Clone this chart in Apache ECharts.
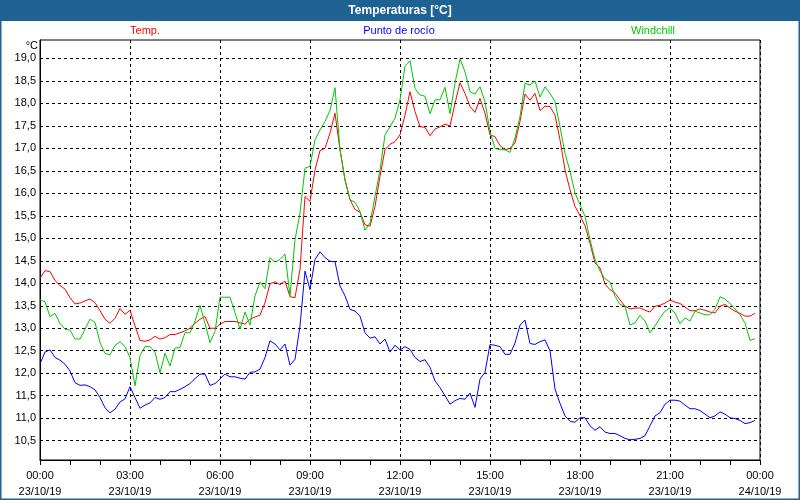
<!DOCTYPE html>
<html><head><meta charset="utf-8">
<script src="https://cdn.jsdelivr.net/npm/echarts@6/dist/echarts.min.js"></script>
<style>html,body{margin:0;padding:0;background:#fff}#c{width:800px;height:500px}</style>
</head><body><div id="c"></div>
<script>
// sample times in hours (every 10 minutes, 23/10/19 00:00 .. 23:50)
const times = Array.from({length: 144}, (_, i) => i / 6);

const temp = [
14.11,14.28,14.26,14.06,13.95,13.87,13.68,13.54,13.56,13.61,13.65,13.57,13.39,13.20,13.11,13.22,13.44,13.31,
13.40,13.05,12.73,12.71,12.74,12.82,12.76,12.79,12.86,12.86,12.90,12.94,13.00,13.11,13.20,13.26,13.00,13.00,
13.09,13.15,13.15,13.15,13.12,13.09,13.20,13.25,13.29,13.57,13.99,14.03,13.97,14.05,13.70,13.68,14.31,15.93,
15.82,16.52,16.95,17.00,17.34,17.78,16.97,16.30,15.86,15.64,15.58,15.30,15.27,15.71,16.38,16.97,17.09,17.15,
17.30,17.74,18.26,17.82,17.48,17.47,17.28,17.43,17.48,17.54,17.50,18.00,18.46,18.22,17.93,17.80,18.11,17.78,
17.30,17.26,17.06,16.97,17.00,17.12,17.60,18.21,18.07,18.22,17.84,17.94,17.93,17.74,17.19,16.52,16.08,15.71,
15.50,15.28,14.89,14.45,14.34,13.98,13.86,13.78,13.63,13.49,13.43,13.45,13.45,13.40,13.36,13.49,13.51,13.56,
13.63,13.58,13.55,13.47,13.39,13.39,13.43,13.40,13.36,13.34,13.49,13.53,13.45,13.38,13.33,13.27,13.27,13.33
];

const dew = [
12.21,12.47,12.52,12.35,12.29,12.20,12.05,11.79,11.73,11.74,11.70,11.63,11.46,11.23,11.12,11.20,11.36,11.43,
11.70,11.46,11.22,11.29,11.34,11.46,11.42,11.46,11.59,11.59,11.64,11.70,11.77,11.88,11.98,11.98,11.73,11.77,
11.87,11.98,11.92,11.92,11.89,11.87,12.02,12.03,12.09,12.35,12.72,12.65,12.52,12.65,12.18,12.31,13.05,14.27,
13.86,14.53,14.70,14.57,14.49,14.48,13.94,13.72,13.42,13.38,13.27,12.90,12.78,12.81,12.65,12.76,12.47,12.62,
12.52,12.59,12.53,12.35,12.26,12.30,12.13,11.83,11.68,11.50,11.31,11.39,11.44,11.42,11.56,11.24,11.87,12.02,
12.64,12.62,12.59,12.42,12.42,12.67,13.07,13.18,12.66,12.64,12.70,12.74,12.50,11.65,11.33,11.05,10.93,10.91,
11.01,11.01,10.83,10.73,10.81,10.69,10.66,10.66,10.61,10.55,10.52,10.53,10.55,10.61,10.83,11.05,11.12,11.31,
11.40,11.40,11.38,11.29,11.21,11.21,11.17,11.09,11.01,11.05,11.14,11.09,11.01,10.99,10.95,10.88,10.90,10.95
];

const windchill = [
13.63,13.59,13.26,13.33,13.11,12.98,12.96,12.76,12.76,12.98,13.20,13.13,12.68,12.44,12.41,12.62,12.70,12.59,
12.35,11.72,12.39,12.59,12.59,12.47,12.01,12.44,12.16,12.56,12.57,12.90,12.90,13.16,13.51,13.11,12.68,12.93,
13.69,13.69,13.69,13.35,12.98,13.36,13.07,13.72,14.03,13.88,14.57,14.47,14.53,14.65,13.72,14.97,15.56,16.56,
16.60,17.19,17.41,17.60,17.84,18.35,16.97,16.30,15.86,15.80,15.60,15.18,15.34,15.93,16.52,17.30,17.48,17.67,
18.08,18.82,18.95,18.33,18.19,18.16,17.77,18.08,18.08,18.36,17.77,18.45,18.99,18.70,18.26,18.21,18.37,18.04,
17.37,17.00,16.97,16.97,16.91,17.23,17.71,18.45,18.41,18.50,18.14,18.37,18.22,18.04,17.48,16.89,16.49,16.01,
15.75,15.49,14.97,14.53,14.27,14.10,14.03,13.71,13.53,13.49,13.07,13.12,13.29,13.16,12.90,13.05,13.23,13.38,
13.45,13.34,13.10,13.23,13.16,13.38,13.34,13.30,13.30,13.42,13.70,13.65,13.55,13.43,13.30,13.12,12.73,12.77
];

const yTicks = [10.5,11.0,11.5,12.0,12.5,13.0,13.5,14.0,14.5,15.0,15.5,16.0,16.5,17.0,17.5,18.0,18.5,19.0];
const xTicks = [0,3,6,9,12,15,18,21,24];
const xTimeLabels = ['00:00','03:00','06:00','09:00','12:00','15:00','18:00','21:00','00:00'];
const xDateLabels = ['23/10/19','23/10/19','23/10/19','23/10/19','23/10/19','23/10/19','23/10/19','23/10/19','24/10/19'];

const names = ['Temp.', 'Punto de rocío', 'Windchill'];
const colors = ['#ff0000', '#0000ff', '#00c800'];
const FONT = 'Liberation Sans';
const FRAME = '#1e6294';

const pair = arr => arr.map((v, i) => [times[i], v]);

const chart = echarts.init(document.getElementById('c'), null, {renderer: 'canvas'});
chart.setOption({
  animation: false,
  backgroundColor: '#ffffff',
  textStyle: {fontFamily: FONT},
  graphic: [
    {type: 'rect', shape: {x: 0, y: 0, width: 800, height: 21}, style: {fill: FRAME}, z: 0},
    {type: 'rect', shape: {x: 0.5, y: 0.5, width: 799, height: 499}, style: {fill: null, stroke: FRAME, lineWidth: 2}, z: 0},
    {type: 'text', x: 400, y: 11, style: {text: 'Temperaturas [°C]', fill: '#ffffff', font: 'bold 12px "Liberation Sans"', textAlign: 'center', textVerticalAlign: 'middle'}},
    {type: 'text', x: 145, y: 31, style: {text: names[0], fill: colors[0], font: '11px "Liberation Sans"', textAlign: 'center', textVerticalAlign: 'middle'}},
    {type: 'text', x: 399, y: 31, style: {text: names[1], fill: colors[1], font: '11px "Liberation Sans"', textAlign: 'center', textVerticalAlign: 'middle'}},
    {type: 'text', x: 653, y: 31, style: {text: names[2], fill: colors[2], font: '11px "Liberation Sans"', textAlign: 'center', textVerticalAlign: 'middle'}},
    {type: 'text', x: 38, y: 46, style: {text: '°C', fill: '#000', font: '11px "Liberation Sans"', textAlign: 'right', textVerticalAlign: 'middle'}}
  ],
  grid: {left: 40, right: 40, top: 40, bottom: 40, show: true, borderColor: '#000', borderWidth: 1, backgroundColor: '#fff'},
  xAxis: {
    type: 'value', min: 0, max: 24, interval: 3,
    axisLine: {lineStyle: {color: '#000', width: 1}},
    axisTick: {show: true, length: 5, lineStyle: {color: '#000'}},
    minorTick: {show: true, splitNumber: 3, length: 5, lineStyle: {color: '#000'}},
    splitLine: {show: true, lineStyle: {color: '#000', type: [3, 3], width: 1}},
    axisLabel: {
      color: '#000', fontSize: 11, fontFamily: FONT, margin: 8, lineHeight: 16,
      formatter: v => { const k = xTicks.indexOf(v); return k < 0 ? '' : xTimeLabels[k] + '\n' + xDateLabels[k]; }
    }
  },
  yAxis: {
    type: 'value', min: 10.07, max: 19.41,
    axisLine: {show: true, lineStyle: {color: '#000', width: 1}},
    axisTick: {show: true, length: 0, customValues: yTicks},
    splitLine: {show: true, lineStyle: {color: '#000', type: [3, 3], width: 1}},
    axisLabel: {
      color: '#000', fontSize: 11, fontFamily: FONT, margin: 4, customValues: yTicks,
      formatter: v => v.toFixed(1).replace('.', ',')
    }
  },
  series: [
    {name: names[0], type: 'line', data: pair(temp), showSymbol: false, lineStyle: {color: colors[0], width: 1}, itemStyle: {color: colors[0]}, z: 3},
    {name: names[1], type: 'line', data: pair(dew), showSymbol: false, lineStyle: {color: colors[1], width: 1}, itemStyle: {color: colors[1]}, z: 2},
    {name: names[2], type: 'line', data: pair(windchill), showSymbol: false, lineStyle: {color: colors[2], width: 1}, itemStyle: {color: colors[2]}, z: 4}
  ]
});
</script></body></html>
